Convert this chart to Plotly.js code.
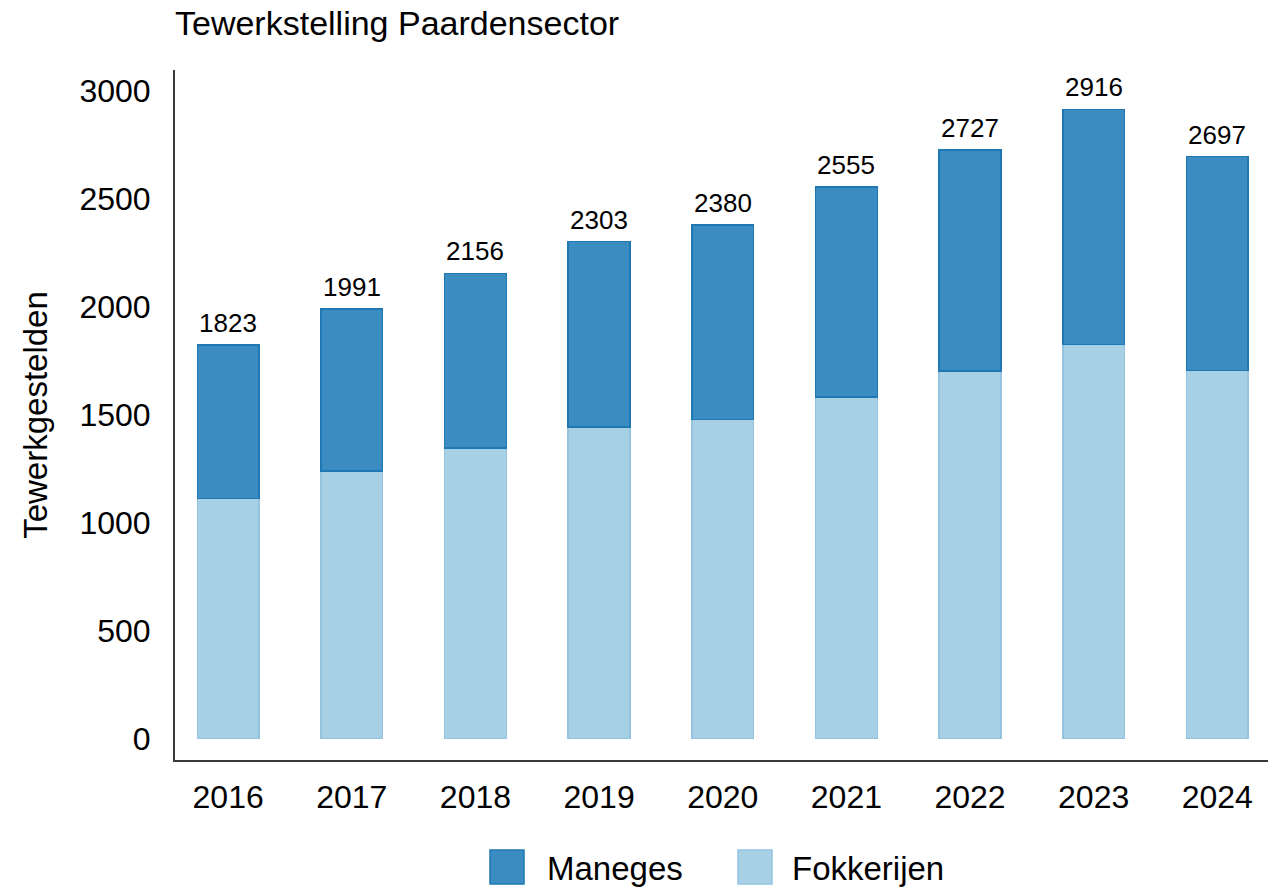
<!DOCTYPE html>
<html>
<head>
<meta charset="utf-8">
<script src="https://cdn.plot.ly/plotly-3.0.1.min.js"></script>
<style>
  html, body { margin: 0; padding: 0; background: #ffffff; }
  #chart { width: 1273px; height: 889px; }
</style>
</head>
<body>
<div id="chart"></div>
<script>
// ---- Data ----
const years = ['2016', '2017', '2018', '2019', '2020', '2021', '2022', '2023', '2024'];
const fokkerijen = [1112, 1239, 1347, 1444, 1479, 1583, 1704, 1826, 1706];
const maneges = [711, 752, 809, 859, 901, 972, 1023, 1090, 991];
const totals = [1823, 1991, 2156, 2303, 2380, 2555, 2727, 2916, 2697];
const seriesNames = ['Maneges', 'Fokkerijen'];
const yTicks = [0, 500, 1000, 1500, 2000, 2500, 3000];

// ---- Styles ----
const FONT = '"Liberation Sans", Arial, Helvetica, sans-serif';
const colManeges = { fill: '#3a8cc1', line: '#1f78b4' };
const colFok = { fill: '#a8d0e4', line: '#93c3df' };

const W = 1273, H = 889;
const M = { l: 175, r: 5, t: 70, b: 129 };
const plotW = W - M.l - M.r, plotH = H - M.t - M.b;
const px2x = p => (p - M.l) / plotW;
const py2y = p => (H - M.b - p) / plotH;

const traces = [
  {
    type: 'bar', name: seriesNames[1], x: years, y: fokkerijen,
    width: 0.5,
    marker: { color: colFok.fill, line: { color: colFok.line, width: 1.5 } },
    hoverinfo: 'x+y+name'
  },
  {
    type: 'bar', name: seriesNames[0], x: years, y: maneges,
    width: 0.5,
    marker: { color: colManeges.fill, line: { color: colManeges.line, width: 1.5 } },
    hoverinfo: 'x+y+name'
  }
];

// Total labels above each stacked bar (x given as category index)
const annotations = years.map((yr, i) => ({
  x: i, y: totals[i], xref: 'x', yref: 'y',
  text: String(totals[i]), showarrow: false,
  yanchor: 'bottom', xanchor: 'center', yshift: 5,
  font: { family: FONT, size: 26, color: '#000' }
}));

// Custom legend (swatches + labels) centered under the plot
const legendItems = [
  { name: seriesNames[0], c: colManeges, sx: 490, tx: 545 },
  { name: seriesNames[1], c: colFok, sx: 738, tx: 790 }
];
const shapes = [];
legendItems.forEach(it => {
  shapes.push({
    type: 'rect', xref: 'paper', yref: 'paper',
    x0: px2x(it.sx), x1: px2x(it.sx + 34),
    y0: py2y(884), y1: py2y(850),
    fillcolor: it.c.fill, line: { color: it.c.line, width: 1.5 }
  });
  annotations.push({
    xref: 'paper', yref: 'paper', x: px2x(it.tx), y: py2y(868),
    xanchor: 'left', yanchor: 'middle', showarrow: false,
    text: it.name, font: { family: FONT, size: 33, color: '#000' }
  });
});

const layout = {
  width: W, height: H,
  margin: M,
  paper_bgcolor: '#ffffff', plot_bgcolor: '#ffffff',
  barmode: 'stack',
  showlegend: false,
  font: { family: FONT, color: '#000' },
  title: {
    text: 'Tewerkstelling Paardensector',
    xref: 'paper', x: 0, xanchor: 'left',
    yref: 'container', y: 1 - 23 / H, yanchor: 'middle',
    font: { family: FONT, size: 34, color: '#000' }
  },
  xaxis: {
    type: 'category',
    range: [-0.43, 8.41],
    showgrid: false, zeroline: false,
    showline: true, linecolor: '#3a3a3a', linewidth: 2,
    ticks: '', ticklabelstandoff: 8,
    tickfont: { family: FONT, size: 32, color: '#000' },
    fixedrange: true
  },
  yaxis: {
    range: [-100, 3098],
    tickvals: yTicks,
    ticktext: yTicks.map(String),
    showgrid: false, zeroline: false,
    showline: true, linecolor: '#3a3a3a', linewidth: 2,
    ticks: '', ticklabelstandoff: 16,
    tickfont: { family: FONT, size: 32, color: '#000' },
    title: { text: 'Tewerkgestelden', standoff: 22, font: { family: FONT, size: 33, color: '#000' } },
    fixedrange: true
  },
  annotations: annotations,
  shapes: shapes
};

Plotly.newPlot('chart', traces, layout, { displayModeBar: false });
</script>
</body>
</html>
